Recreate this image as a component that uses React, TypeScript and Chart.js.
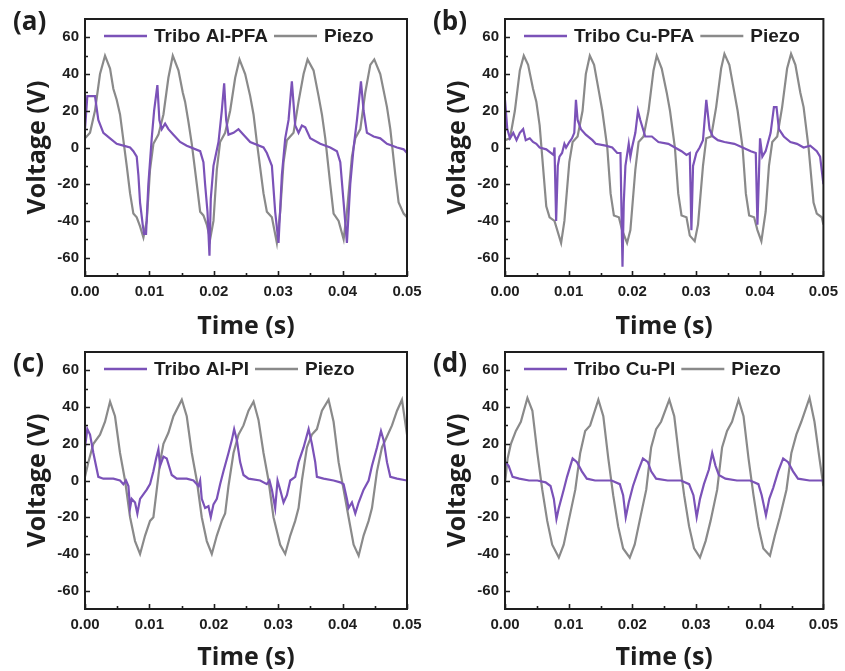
import React, { useEffect, useRef } from 'react';
import { Chart, registerables } from 'chart.js';

Chart.register(...registerables);

// ---------- axes ----------
const X_TICKS_MS = [0, 10, 20, 30, 40, 50];
const X_TICK_LABELS = ['0.00', '0.01', '0.02', '0.03', '0.04', '0.05'];
const X_MINOR_MS = [5, 15, 25, 35, 45];
const Y_TICKS = [-60, -40, -20, 0, 20, 40, 60];
const Y_MINOR = [-50, -30, -10, 10, 30, 50];
const Y_MIN = -70;
const Y_MAX = 70;
const X_TITLE = 'Time (s)';
const Y_TITLE = 'Voltage (V)';

const PANEL_LETTERS = ['(a)', '(b)', '(c)', '(d)'];
const TRIBO_LABELS = ['Tribo Al-PFA', 'Tribo Cu-PFA', 'Tribo Al-PI', 'Tribo Cu-PI'];
const PIEZO_LABEL = 'Piezo';

// ---------- data: [time (ms), voltage (V)] ----------
const A_TRIBO = [
  [0, 10], [0.36, 28], [1.55, 28], [2.07, 15], [2.85, 8], [3.89, 5], [4.92, 2], [5.96, 1], [7.0, 0],
  [7.51, -2], [8.03, -5], [8.29, -15], [8.55, -30], [8.96, -42], [9.17, -47], [9.48, -47], [9.84, -20],
  [10.36, 5], [10.73, 20], [11.24, 34], [11.55, 15], [11.92, 10], [12.44, 13], [12.95, 10], [13.73, 7],
  [14.77, 3], [15.8, 1], [17.88, -2], [18.39, -8], [18.65, -20], [19.02, -35], [19.33, -59], [19.53, -28],
  [19.95, -10], [20.73, 3], [21.24, 20], [21.61, 35], [21.92, 15], [22.28, 7], [23.06, 8], [23.83, 10],
  [24.61, 7], [25.65, 3], [27.72, 0], [28.24, -3], [29.02, -10], [29.53, -35], [30.05, -52], [30.57, -15],
  [31.09, 5], [31.61, 15], [32.12, 36], [32.64, 12], [33.16, 8], [33.68, 12], [34.2, 11], [34.97, 5],
  [36.53, 2], [38.08, 0], [39.12, -2], [39.64, -8], [40.16, -30], [40.67, -52], [41.19, -20], [41.71, 0],
  [42.23, 15], [42.85, 36], [43.26, 20], [43.78, 8], [44.3, 7], [44.82, 6], [45.85, 5], [46.89, 2],
  [48.45, 0], [49.48, -1], [50, -3],
];
const A_PIEZO = [
  [0, 5], [0.78, 8], [1.55, 20], [2.33, 40], [3.11, 50], [3.89, 43], [4.4, 32], [4.92, 26], [5.44, 18],
  [5.96, 4], [6.48, -10], [7.0, -25], [7.51, -36], [8.03, -38], [8.55, -43], [9.07, -49], [9.59, -40],
  [10.1, -12], [10.62, 2], [11.4, 7], [12.18, 18], [12.95, 38], [13.63, 50], [14.51, 42], [15.18, 30],
  [15.54, 25], [16.06, 14], [16.58, 2], [17.36, -20], [17.88, -35], [18.39, -37], [18.91, -42], [19.43, -50],
  [19.95, -40], [20.47, -12], [20.98, 3], [21.76, 8], [22.54, 20], [23.32, 38], [23.99, 48], [24.87, 40],
  [25.65, 28], [26.17, 18], [26.68, 3], [27.72, -25], [28.24, -35], [29.02, -38], [29.79, -52], [30.31, -35],
  [30.83, -8], [31.35, 4], [32.38, 8], [33.16, 25], [33.94, 40], [34.56, 48], [35.49, 42], [36.27, 28],
  [36.79, 18], [37.31, 5], [38.08, -20], [38.6, -36], [39.38, -40], [40.16, -50], [40.67, -35], [41.45, -5],
  [41.97, 5], [42.75, 10], [43.52, 30], [44.3, 45], [44.92, 48], [45.85, 40], [46.89, 22], [47.41, 10],
  [48.19, -15], [48.7, -30], [49.48, -36], [50, -38],
];

const B_TRIBO = [
  [0, 26], [0.36, 10], [0.78, 5], [1.3, 8], [1.81, 4], [2.33, 8], [2.85, 10], [3.26, 4], [3.89, 5],
  [4.4, 3], [4.92, 2], [5.44, 0], [6.48, -1], [7.25, -3], [7.62, -4], [7.77, 0], [8.03, -40], [8.29, -10],
  [8.55, -5], [8.96, -3], [9.33, 2], [9.59, 0], [10.1, 3], [10.52, 5], [10.88, 8], [11.14, 26], [11.4, 15],
  [11.92, 10], [12.69, 7], [13.73, 4], [14.25, 2], [15.8, 1], [16.84, 0], [17.62, -3], [18.13, -3],
  [18.45, -65], [18.65, -30], [18.91, -10], [19.43, 2], [19.69, -5], [19.95, 0], [20.47, 8], [20.88, 20],
  [21.24, 15], [22.02, 6], [23.06, 6], [24.09, 3], [25.65, 2], [26.68, 0], [27.72, -2], [28.5, -4],
  [29.02, -3], [29.27, -45], [29.53, -10], [30.05, -3], [30.57, 0], [31.09, 4], [31.61, 26], [32.12, 10],
  [32.64, 6], [33.42, 4], [34.46, 3], [36.01, 2], [37.31, 0], [38.6, -2], [39.38, -3], [39.64, -42],
  [40.05, 5], [40.41, -5], [40.93, -2], [41.71, 8], [42.23, 22], [42.64, 22], [43.01, 10], [43.78, 6],
  [44.82, 3], [45.85, 2], [46.89, 0], [47.93, 1], [48.96, -2], [49.48, -5], [50, -20],
];
const B_PIEZO = [
  [0, 4], [0.78, 5], [1.55, 20], [2.33, 42], [2.95, 50], [3.63, 45], [4.4, 32], [4.92, 25], [5.44, 12],
  [5.96, -10], [6.48, -32], [7.0, -38], [7.77, -40], [8.81, -52], [9.33, -40], [10.1, -8], [10.62, 3],
  [11.4, 6], [12.18, 20], [12.69, 40], [13.32, 50], [13.99, 45], [14.77, 30], [15.28, 20], [16.06, 0],
  [16.58, -25], [17.1, -37], [17.88, -38], [18.39, -45], [19.17, -52], [19.69, -45], [20.47, -12], [20.98, 3],
  [21.76, 6], [22.54, 20], [23.32, 42], [23.83, 50], [24.61, 43], [25.39, 30], [25.91, 20], [26.68, 0],
  [27.2, -25], [27.72, -37], [28.5, -38], [29.02, -48], [29.79, -51], [30.31, -42], [31.09, -10], [31.61, 5],
  [32.38, 6], [33.16, 22], [33.94, 43], [34.46, 51], [35.23, 45], [36.01, 30], [36.53, 20], [37.31, 0],
  [37.82, -25], [38.34, -37], [39.12, -38], [39.64, -45], [40.26, -51], [40.93, -35], [41.45, -10], [41.97, 3],
  [42.75, 6], [43.52, 22], [44.3, 43], [44.92, 51], [45.6, 45], [46.37, 30], [46.89, 22], [47.67, 0],
  [48.45, -30], [48.96, -36], [49.74, -38], [50, -42],
];

const C_TRIBO = [
  [0, 18], [0.36, 28], [0.78, 25], [1.3, 15], [2.07, 2], [2.85, 1], [4.4, 1], [5.44, 0], [5.96, -2],
  [6.37, 0], [6.74, -3], [7.0, -15], [7.25, -10], [7.77, -12], [8.13, -18], [8.55, -10], [9.59, -5],
  [10.1, -2], [10.62, 5], [11.04, 12], [11.4, 17], [11.66, 8], [12.18, 13], [12.69, 12], [13.47, 3],
  [14.25, 1], [15.8, 1], [16.84, 0], [17.62, -3], [17.88, 0], [18.13, -10], [18.65, -15], [19.17, -14],
  [19.53, -20], [19.95, -13], [20.47, -10], [20.98, -2], [21.5, 5], [22.28, 15], [22.8, 22], [23.16, 28],
  [23.58, 22], [24.09, 10], [24.61, 3], [25.39, 1], [27.2, 0], [28.24, -2], [28.65, 0], [29.02, -5],
  [29.53, -15], [29.9, 0], [30.31, -5], [30.83, -12], [31.35, -8], [31.87, 0], [32.64, 2], [33.16, 10],
  [33.94, 18], [34.72, 28], [35.23, 20], [35.75, 10], [36.01, 2], [37.05, 1], [38.6, 0], [39.64, -1],
  [40.16, -2], [40.67, -10], [40.93, -15], [41.45, -12], [41.97, -18], [42.49, -12], [43.26, -5], [44.04, 0],
  [44.56, 8], [45.34, 18], [45.96, 27], [46.37, 22], [46.89, 10], [47.41, 2], [48.45, 1], [50, 0],
];
const C_PIEZO = [
  [0, 2], [0.52, 10], [1.3, 20], [2.33, 25], [3.11, 32], [3.89, 43], [4.66, 35], [5.44, 15], [6.22, 0],
  [7.0, -20], [7.77, -33], [8.55, -40], [9.33, -30], [10.1, -22], [10.62, -20], [11.14, -5], [11.66, 10],
  [12.18, 20], [12.95, 26], [13.73, 35], [15.03, 44], [15.8, 35], [16.58, 15], [17.36, 0], [18.13, -20],
  [18.91, -33], [19.69, -40], [20.47, -30], [21.24, -22], [21.76, -18], [22.28, -3], [23.06, 15], [23.83, 25],
  [24.61, 30], [25.39, 38], [26.17, 43], [26.94, 33], [27.72, 15], [28.5, 0], [29.27, -20], [30.31, -35],
  [31.09, -40], [31.87, -30], [32.64, -22], [33.16, -15], [33.68, 0], [34.46, 18], [35.23, 25], [36.01, 28],
  [36.79, 38], [37.82, 44], [38.6, 32], [39.38, 10], [40.16, -5], [40.93, -20], [41.71, -35], [42.49, -41],
  [43.26, -30], [44.04, -22], [44.56, -15], [45.34, 5], [46.11, 18], [46.89, 24], [47.67, 30], [48.45, 38],
  [49.22, 44], [50, 25],
];

const D_TRIBO = [
  [0.05, 10], [0.57, 8], [1.19, 2], [2.23, 1], [3.78, 0], [5.08, 0], [6.37, -1], [7.15, -3], [7.67, -10],
  [8.08, -21], [8.45, -15], [9.22, -5], [9.74, 2], [10.26, 8], [10.62, 12], [11.3, 10], [12.07, 5],
  [12.85, 1], [14.15, 0], [16.74, 0], [18.03, -2], [18.55, -8], [18.96, -20], [19.43, -12], [20.1, -3],
  [20.88, 5], [21.66, 12], [22.44, 10], [22.95, 5], [23.73, 1], [25.54, 0], [27.62, 0], [28.91, -2],
  [29.59, -8], [30.1, -20], [30.62, -10], [31.24, -2], [32.02, 6], [32.54, 15], [33.06, 8], [33.58, 3],
  [34.61, 1], [36.42, 0], [38.5, 0], [39.79, -2], [40.31, -8], [40.98, -19], [41.5, -10], [42.12, -4],
  [42.9, 5], [43.68, 12], [44.46, 10], [45.23, 5], [46.01, 1], [47.82, 0], [50, 0],
];
const D_PIEZO = [
  [0.05, 0], [0.41, 12], [0.93, 20], [1.71, 27], [2.49, 32], [3.52, 45], [4.3, 38], [5.08, 15], [5.85, -5],
  [6.63, -22], [7.41, -35], [8.45, -42], [9.22, -35], [10.0, -22], [11.04, -5], [11.81, 15], [12.59, 27],
  [13.37, 30], [14.66, 44], [15.44, 35], [16.22, 12], [16.99, -8], [17.77, -25], [18.55, -37], [19.59, -42],
  [20.36, -35], [21.14, -22], [22.18, -5], [22.95, 18], [23.73, 28], [24.51, 32], [25.8, 44], [26.58, 35],
  [27.36, 12], [28.13, -8], [28.91, -25], [29.69, -37], [30.62, -42], [31.5, -33], [32.28, -22], [33.32, -5],
  [34.09, 18], [34.87, 27], [35.65, 32], [36.68, 44], [37.46, 35], [38.24, 12], [39.02, -8], [39.79, -25],
  [40.57, -37], [41.61, -41], [42.38, -30], [43.16, -20], [44.2, -5], [44.97, 15], [45.75, 25], [46.53, 32],
  [47.82, 45], [48.6, 32], [49.38, 12], [50, -3],
];

const TRIBO_DATA = [A_TRIBO, B_TRIBO, C_TRIBO, D_TRIBO];
const PIEZO_DATA = [A_PIEZO, B_PIEZO, C_PIEZO, D_PIEZO];

// ---------- style ----------
const PURPLE = '#7b52b8';
const GRAY = '#8a8a8a';
const INK = '#1e1e1e';
const TICK_FONT = 'Liberation Sans, Arial, sans-serif';
const TITLE_FONT = 'Open Sans, sans-serif';

const framePlugin = {
  id: 'frame',
  afterDraw(chart: any, _args: any, opts: any) {
    const { ctx, chartArea: ca, scales } = chart;
    const xs = scales.x;
    const ys = scales.y;
    ctx.save();
    // ticks (inward)
    ctx.strokeStyle = INK;
    ctx.lineWidth = 1.6;
    ctx.beginPath();
    Y_TICKS.forEach((v) => {
      const p = Math.round(ys.getPixelForValue(v)) + 0.5;
      ctx.moveTo(ca.left, p);
      ctx.lineTo(ca.left + 5, p);
    });
    Y_MINOR.forEach((v) => {
      const p = Math.round(ys.getPixelForValue(v)) + 0.5;
      ctx.moveTo(ca.left, p);
      ctx.lineTo(ca.left + 3, p);
    });
    X_TICKS_MS.forEach((v) => {
      const p = Math.round(xs.getPixelForValue(v)) + 0.5;
      ctx.moveTo(p, ca.bottom);
      ctx.lineTo(p, ca.bottom - 5);
    });
    X_MINOR_MS.forEach((v) => {
      const p = Math.round(xs.getPixelForValue(v)) + 0.5;
      ctx.moveTo(p, ca.bottom);
      ctx.lineTo(p, ca.bottom - 3);
    });
    ctx.stroke();
    // frame
    ctx.lineWidth = 2;
    ctx.strokeRect(ca.left, ca.top, ca.right - ca.left, ca.bottom - ca.top);

    // legend (inside plot, top-left)
    ctx.font = 'bold 19px ' + TICK_FONT;
    ctx.textBaseline = 'middle';
    ctx.textAlign = 'left';
    let lx = ca.left + 19;
    const ly = ca.top + 17;
    chart.data.datasets.forEach((ds: any) => {
      ctx.strokeStyle = ds.borderColor;
      ctx.lineWidth = 2.5;
      ctx.beginPath();
      ctx.moveTo(lx, ly);
      ctx.lineTo(lx + 43, ly);
      ctx.stroke();
      lx += 50;
      ctx.fillStyle = INK;
      ctx.fillText(ds.label, lx, ly + 1);
      lx += ctx.measureText(ds.label).width + 6;
    });

    // panel letter
    ctx.font = 'bold 26px ' + TITLE_FONT;
    ctx.fillStyle = INK;
    ctx.textBaseline = 'middle';
    ctx.fillText(opts.letter, 13, opts.letterY);
    ctx.restore();
  },
};

type PanelProps = {
  idx: number;
  left: number;
  top: number;
  width: number;
  height: number;
  padTop: number;
  padRight: number;
  padBottom: number;
  xScaleH: number;
  xTitlePad: number;
  letterY: number;
};

function Panel(p: PanelProps) {
  const ref = useRef<HTMLCanvasElement>(null);
  useEffect(() => {
    if (!ref.current) return;
    const chart = new Chart(ref.current, {
      type: 'line',
      data: {
        datasets: [
          {
            label: TRIBO_LABELS[p.idx],
            data: TRIBO_DATA[p.idx].map(([x, y]) => ({ x, y })),
            borderColor: PURPLE,
            backgroundColor: PURPLE,
            borderWidth: 2.2,
            pointRadius: 0,
            tension: 0,
            fill: false,
          },
          {
            label: PIEZO_LABEL,
            data: PIEZO_DATA[p.idx].map(([x, y]) => ({ x, y })),
            borderColor: GRAY,
            backgroundColor: GRAY,
            borderWidth: 2.2,
            pointRadius: 0,
            tension: 0,
            fill: false,
          },
        ],
      },
      options: {
        responsive: false,
        animation: false,
        events: [],
        layout: { padding: { left: 0, right: p.padRight, top: p.padTop, bottom: p.padBottom } },
        plugins: {
          legend: { display: false },
          tooltip: { enabled: false },
          frame: { letter: PANEL_LETTERS[p.idx], letterY: p.letterY },
        } as any,
        scales: {
          x: {
            type: 'linear',
            min: 0,
            max: 50,
            grid: { display: false, drawTicks: false },
            border: { display: false },
            afterBuildTicks: (s: any) => {
              s.ticks = X_TICKS_MS.map((v) => ({ value: v }));
            },
            afterFit: (s: any) => {
              s.height = p.xScaleH;
            },
            ticks: {
              autoSkip: false,
              maxRotation: 0,
              padding: 7,
              color: INK,
              font: { family: TICK_FONT, weight: 'bold', size: 15 },
              callback: (_v: any, i: number) => X_TICK_LABELS[i],
            },
            title: {
              display: true,
              text: X_TITLE,
              color: INK,
              font: { family: TITLE_FONT, weight: 'bold', size: 25, lineHeight: 1 },
              padding: { top: 0, bottom: p.xTitlePad },
            },
          },
          y: {
            type: 'linear',
            min: Y_MIN,
            max: Y_MAX,
            grid: { display: false, drawTicks: false },
            border: { display: false },
            afterBuildTicks: (s: any) => {
              s.ticks = Y_TICKS.map((v) => ({ value: v }));
            },
            afterFit: (s: any) => {
              s.width = 85;
            },
            ticks: {
              padding: 6,
              color: INK,
              font: { family: TICK_FONT, weight: 'bold', size: 15 },
              callback: (v: any) => String(v),
            },
            title: {
              display: true,
              text: Y_TITLE,
              color: INK,
              font: { family: TITLE_FONT, weight: 'bold', size: 25, lineHeight: 1 },
              padding: { top: 25, bottom: 0 },
            },
          },
        },
      } as any,
      plugins: [framePlugin],
    });
    return () => chart.destroy();
  }, []);
  return (
    <canvas
      ref={ref}
      width={p.width}
      height={p.height}
      style={{ position: 'absolute', left: p.left, top: p.top, width: p.width, height: p.height }}
    />
  );
}

export default function App() {
  return (
    <div style={{ position: 'absolute', left: 0, top: 0, width: 845, height: 671, background: '#fff', overflow: 'hidden' }}>
      <Panel idx={0} left={0} top={0} width={440} height={345} padTop={19} padRight={33} padBottom={10} xScaleH={59} xTitlePad={-4} letterY={23} />
      <Panel idx={1} left={420} top={0} width={425} height={345} padTop={19} padRight={18} padBottom={10} xScaleH={59} xTitlePad={-4} letterY={23} />
      <Panel idx={2} left={0} top={335} width={440} height={336} padTop={17} padRight={33} padBottom={0} xScaleH={62} xTitlePad={1} letterY={30} />
      <Panel idx={3} left={420} top={335} width={425} height={336} padTop={17} padRight={18} padBottom={0} xScaleH={62} xTitlePad={1} letterY={30} />
    </div>
  );
}
